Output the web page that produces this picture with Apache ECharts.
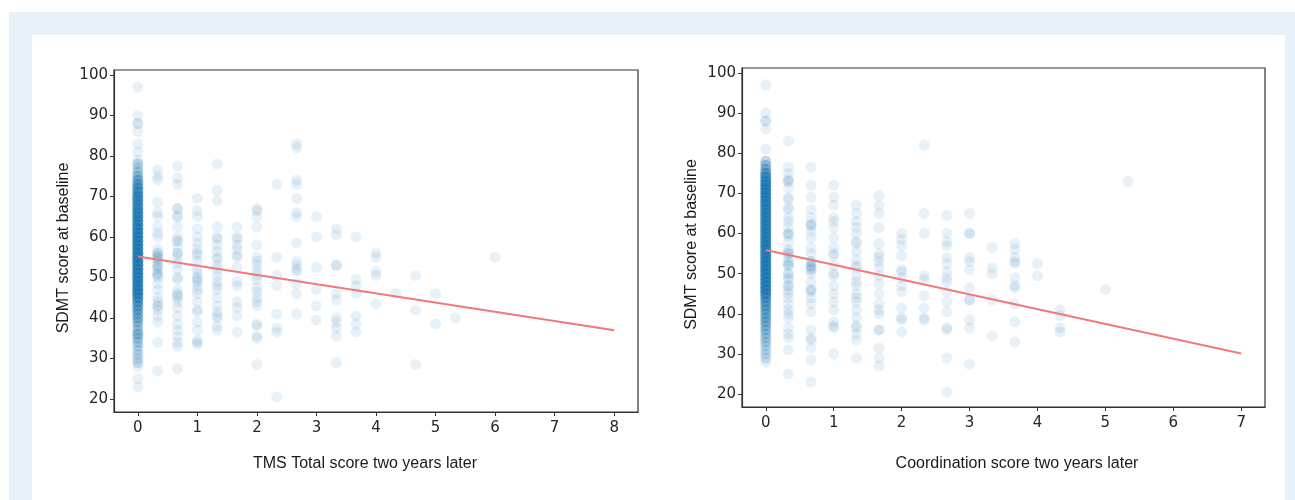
<!DOCTYPE html>
<html>
<head>
<meta charset="utf-8">
<script src="https://cdn.jsdelivr.net/npm/echarts@6/dist/echarts.min.js"></script>
<style>
	body { margin: 0; background: #fff; }
	#frame { position: absolute; left: 9px; top: 12px; width: 1286px; height: 488px; background: #e8f1fa; }
	#panel { position: absolute; left: 32px; top: 35px; width: 1253px; height: 465px; background: #fff; }
	#chart { position: absolute; left: 0; top: 0; width: 1295px; height: 500px; }
</style>
</head>
<body>
<div id="frame"></div>
<div id="panel"></div>
<div id="chart"></div>
<script>
// tick labels
var tmsTicks = [0, 1, 2, 3, 4, 5, 6, 7, 8];
var coordTicks = [0, 1, 2, 3, 4, 5, 6, 7];
var sdmtTicks = [20, 30, 40, 50, 60, 70, 80, 90, 100];

// left plot: SDMT at baseline vs TMS total two years later
// x = 0 column is very crowded, kept as [score, how many]
var tmsZero = [[97,1],[90,1],[88,2],[86,1],[83,1],[81,1],[79,1],[78,3],[77,2],[76,3],[75,4],[74,6],[73,7],[72,8],[71,9],[70,10],[69,10],[68,10],[67,10],[66,11],[65,11],[64,11],[63,11],[62,12],[61,12],[60,12],[59,12],[58,12],[57,12],[56,12],[55,12],[54,12],[53,12],[52,12],[51,12],[50,12],[49,12],[48,12],[47,12],[46,12],[45,10],[44,8],[43,7],[42,6],[41,5],[40,5],[39,4],[38,3],[37,3],[36,5],[35,3],[34,3],[33,2],[32,2],[31,2],[30,2],[29,2],[28,1],[25,1],[23,1]];
var tmsX = [0.333, 0.667, 1, 1.333, 1.667, 2, 2.333, 2.667, 3, 3.333, 3.667, 4, 4.333, 4.667, 5, 5.333, 6];
var tmsY = [
	[76.5, 75, 74, 68.5, 66, 65, 62.5, 61, 60, 57, 56, 55.5, 55, 54.5, 54, 53, 52.5, 52, 51, 50.5, 50, 48.5, 47, 45, 44, 43, 42, 40.5, 39, 34, 27, 55, 53, 51, 56, 43],
	[77.5, 74.5, 73, 67, 67, 65, 65, 62.5, 60, 59, 59, 57.5, 56, 56, 55, 53.5, 52, 50, 49.5, 47, 46, 45.5, 45, 44, 42.5, 40.5, 38.5, 37, 35.5, 34, 33, 27.5],
	[69.5, 66.5, 65, 62, 60, 58.5, 57, 56, 55.5, 54, 52, 51, 50, 49.5, 49, 48, 47, 46, 44, 42, 41.5, 39, 37, 34.5, 34, 33.5],
	[78, 71.5, 69, 62.5, 60, 59.5, 58, 56.5, 55, 54.5, 53, 52, 50.5, 49, 48, 47, 45, 43, 41.5, 40.5, 40, 38, 37],
	[62.5, 60, 59.5, 58, 57, 55.5, 55, 52.5, 49, 48, 44, 42.5, 40.5, 36.5],
	[67, 66.5, 65, 62.5, 58, 55, 54, 53, 51.5, 50.5, 49.5, 47.5, 46.5, 45, 44, 43, 38.5, 38, 35.5, 35, 28.5],
	[73, 55, 50.5, 48, 41, 37.5, 36.5, 20.5],
	[83, 82, 74, 73, 69.5, 66, 65, 58.5, 54, 53, 52, 51.5, 48.5, 46, 41],
	[65, 60, 52.5, 47, 43, 39.5],
	[62, 60.5, 53, 53, 46, 44.5, 40, 39, 37.5, 35.5, 29],
	[60, 49.5, 48, 46, 40.5, 38.5, 36.5],
	[56, 55, 51.5, 50.5, 43.5],
	[46],
	[50.5, 42, 28.5],
	[46, 38.5],
	[40],
	[55]
];
var tmsFit = [[0, 55.2], [8, 37]];

// right plot: SDMT at baseline vs coordination two years later
var coordZero = [[97,1],[90,1],[88,2],[86,1],[81,1],[78,3],[77,4],[76,5],[75,8],[74,10],[73,11],[72,12],[71,12],[70,12],[69,12],[68,12],[67,12],[66,12],[65,12],[64,12],[63,12],[62,12],[61,12],[60,12],[59,12],[58,12],[57,12],[56,12],[55,12],[54,12],[53,12],[52,12],[51,12],[50,12],[49,12],[48,12],[47,12],[46,12],[45,11],[44,8],[43,7],[42,6],[41,6],[40,5],[39,5],[38,5],[37,4],[36,4],[35,3],[34,3],[33,3],[32,2],[31,2],[30,2],[29,2],[28,1]];
var coordX = [0.333, 0.667, 1, 1.333, 1.667, 2, 2.333, 2.667, 3, 3.333, 3.667, 4, 4.333, 5, 5.333];
var coordY = [
	[83, 76.5, 75, 73.5, 73, 71.5, 69, 68.5, 66.5, 66, 64, 63, 61.5, 60, 59.5, 58, 56, 55.5, 55, 54, 53, 52.5, 52, 50, 49, 48.5, 47, 46, 45, 44, 42.5, 41, 40, 39, 36.5, 35, 34, 31, 25, 60, 55, 52, 73, 50, 47],
	[76.5, 72, 69, 66, 64, 62.5, 62, 60.5, 59, 56.5, 55, 53, 52, 51.5, 51, 50, 48, 46, 45.5, 44, 42.5, 40.5, 36, 34, 33.5, 31.5, 28.5, 23, 52, 53, 51, 46, 62],
	[72, 69, 67, 64, 63, 61.5, 59, 56.5, 55, 54.5, 52, 50, 49.5, 47, 45, 43, 41, 38, 37, 36.5, 30],
	[67, 65, 63, 61.5, 60, 58, 57.5, 55.5, 53.5, 52, 51.5, 49.5, 48, 47, 45, 44, 43, 41, 39, 37, 36.5, 35, 33.5, 29],
	[69.5, 67, 65, 61.5, 57.5, 55, 54, 53, 51.5, 49.5, 47.5, 45, 42.5, 41, 40, 36, 36, 31.5, 29, 27],
	[60, 58.5, 57, 54.5, 51, 50.5, 49, 47, 45.5, 41.5, 39, 38.5, 35.5],
	[82, 65, 60, 49.5, 48.5, 44.5, 41.5, 39, 38.5],
	[64.5, 60, 58, 57, 54, 52.5, 50.5, 49, 48, 45.5, 43, 40.5, 36.5, 36, 29, 20.5],
	[65, 60, 60, 54, 53, 51, 46.5, 43.5, 43.5, 38.5, 36.5, 27.5],
	[56.5, 51.5, 50, 43.5, 34.5],
	[57.5, 56, 54, 53, 52.5, 49, 47, 46.5, 42.5, 38, 33],
	[52.5, 49.5],
	[41, 39.5, 36.5, 35.5],
	[46],
	[73]
];
var coordFit = [[0, 55.9], [7, 30.1]];

// turn the column lists into [x, y] points
function buildPoints(zeroCounts, xs, ys) {
	var pts = [];
	zeroCounts.forEach(function (p) {
		for (var k = 0; k < p[1]; k++) pts.push([0, p[0]]);
	});
	xs.forEach(function (x, i) {
		ys[i].forEach(function (y) { pts.push([x, y]); });
	});
	return pts;
}

var tickFont = { fontFamily: 'DejaVu Sans', fontSize: 15, color: '#262626' };
var nameFont = { fontFamily: 'Liberation Sans', fontSize: 16, color: '#1a1a1a' };

function xAxisFor(grid, ticks, max, name, pad, gap) {
	return {
		type: 'value', gridIndex: grid, min: -max * 0.05, max: max * 1.05,
		name: name, nameLocation: 'middle', nameGap: gap,
		nameTextStyle: Object.assign({ padding: pad }, nameFont),
		splitLine: { show: false },
		axisLine: { onZero: false, lineStyle: { color: '#333', width: 1.2 } },
		axisTick: { customValues: ticks, length: 4, lineStyle: { color: '#333' } },
		axisLabel: Object.assign({ customValues: ticks, margin: 9 }, tickFont)
	};
}

function yAxisFor(grid) {
	return {
		type: 'value', gridIndex: grid, min: 16.8, max: 101.2,
		name: 'SDMT score at baseline', nameLocation: 'middle', nameGap: 42,
		nameTextStyle: Object.assign({ padding: [0, 14, 0, 0] }, nameFont),
		splitLine: { show: false },
		axisLine: { show: true, onZero: false, lineStyle: { color: '#333', width: 1.2 } },
		axisTick: { customValues: sdmtTicks, length: 4, lineStyle: { color: '#333' } },
		axisLabel: Object.assign({ customValues: sdmtTicks, margin: 6 }, tickFont)
	};
}

var dotStyle = { color: '#1f77b4', opacity: 0.1 };
var fitStyle = { color: '#f07a7a', width: 2 };

var myChart = echarts.init(document.getElementById('chart'));

var option = {
	animation: false,
	grid: [
		{ left: 114, top: 70, width: 524, height: 342, show: true, borderColor: '#333', borderWidth: 1.2 },
		{ left: 742, top: 68, width: 523, height: 339, show: true, borderColor: '#333', borderWidth: 1.2 }
	],
	xAxis: [
		xAxisFor(0, tmsTicks, 8, 'TMS Total score two years later', [0, 22, 0, 0], 44),
		xAxisFor(1, coordTicks, 7, 'Coordination score two years later', [0, 0, 0, 27], 49)
	],
	yAxis: [yAxisFor(0), yAxisFor(1)],
	series: [
		{ type: 'scatter', xAxisIndex: 0, yAxisIndex: 0, symbolSize: 11, itemStyle: dotStyle, data: buildPoints(tmsZero, tmsX, tmsY) },
		{ type: 'line', xAxisIndex: 0, yAxisIndex: 0, showSymbol: false, lineStyle: fitStyle, data: tmsFit, z: 3 },
		{ type: 'scatter', xAxisIndex: 1, yAxisIndex: 1, symbolSize: 11, itemStyle: dotStyle, data: buildPoints(coordZero, coordX, coordY) },
		{ type: 'line', xAxisIndex: 1, yAxisIndex: 1, showSymbol: false, lineStyle: fitStyle, data: coordFit, z: 3 }
	]
};

myChart.setOption(option);
</script>
</body>
</html>
